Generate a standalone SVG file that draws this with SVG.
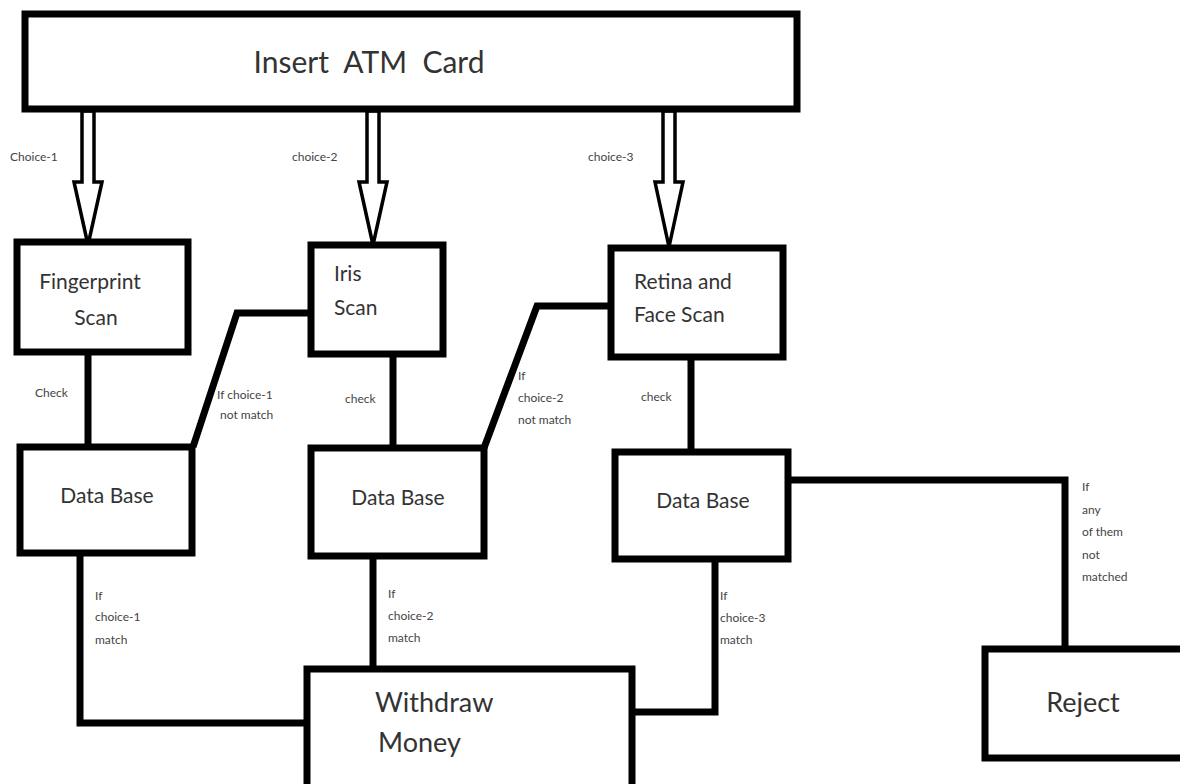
<svg xmlns="http://www.w3.org/2000/svg" width="1180" height="784" viewBox="0 0 1180 784">
<defs>
<style>
.box{fill:#fff;stroke:#000;stroke-width:7}
.ln{fill:none;stroke:#000;stroke-width:7;stroke-linejoin:miter}
.arr{fill:#fff;stroke:#000;stroke-width:3.5;stroke-linejoin:miter}
.t{font-family:Lato,"Open Sans","Liberation Sans",sans-serif;fill:#333}
.big{font-size:30px}
.mid{font-size:21px}
.lg{font-size:27px}
.sm{font-size:12px;fill:#444}
</style>
</defs>
<rect width="1180" height="784" fill="#fff"/>
<g id="connectors">
<path class="arr" d="M82 111 V182 H74 L88 245 L102 182 H94 V111 Z"/>
<path class="arr" d="M367 111 V182 H359 L373 245 L387 182 H379 V111 Z"/>
<path class="arr" d="M663 111 V182 H655 L669 247 L683 182 H675 V111 Z"/>
<path class="ln" d="M88 352 V447"/>
<path class="ln" d="M193 447 L237 313 H311"/>
<path class="ln" d="M393 354 V448"/>
<path class="ln" d="M484 448 L537 306 H611"/>
<path class="ln" d="M691 357 V472"/>
<path class="ln" d="M788 480 H1065 V650"/>
<path class="ln" d="M80 553 V723 H307"/>
<path class="ln" d="M373 556 V669"/>
<path class="ln" d="M715 559 V712 H632"/>
<text class="t sm" x="10" y="161">Choice-1</text>
<text class="t sm" x="292" y="161">choice-2</text>
<text class="t sm" x="588" y="161">choice-3</text>
<text class="t sm" x="35" y="397">Check</text>
<text class="t sm" x="217" y="399">If choice-1</text>
<text class="t sm" x="220" y="419">not match</text>
<text class="t sm" x="345" y="403">check</text>
<text class="t sm" x="518" y="380">If</text>
<text class="t sm" x="518" y="402">choice-2</text>
<text class="t sm" x="518" y="424">not match</text>
<text class="t sm" x="641" y="401">check</text>
<text class="t sm" x="1082" y="491">If</text>
<text class="t sm" x="1082" y="514">any</text>
<text class="t sm" x="1082" y="536">of them</text>
<text class="t sm" x="1082" y="559">not</text>
<text class="t sm" x="1082" y="581">matched</text>
<text class="t sm" x="95" y="600">If</text>
<text class="t sm" x="95" y="621">choice-1</text>
<text class="t sm" x="95" y="644">match</text>
<text class="t sm" x="388" y="598">If</text>
<text class="t sm" x="388" y="620">choice-2</text>
<text class="t sm" x="388" y="642">match</text>
<text class="t sm" x="720" y="600">If</text>
<text class="t sm" x="720" y="622">choice-3</text>
<text class="t sm" x="720" y="644">match</text>
</g>
<g id="insert"><rect class="box" x="25" y="14" width="772" height="95"/><text class="t big" x="369" y="73" text-anchor="middle" xml:space="preserve">Insert  ATM  Card</text></g>
<g id="fingerprint"><rect class="box" x="17" y="242" width="171" height="110"/><text class="t mid" x="90" y="289" text-anchor="middle">Fingerprint</text><text class="t mid" x="96" y="325" text-anchor="middle">Scan</text></g>
<g id="iris"><rect class="box" x="311" y="245" width="132" height="109"/><text class="t mid" x="334" y="281">Iris</text><text class="t mid" x="334" y="315">Scan</text></g>
<g id="retina"><rect class="box" x="611" y="248" width="172" height="109"/><text class="t mid" x="634" y="289">Retina and</text><text class="t mid" x="634" y="322">Face Scan</text></g>
<g id="db1"><rect class="box" x="20" y="447" width="172" height="106"/><text class="t mid" x="107" y="503" text-anchor="middle">Data Base</text></g>
<g id="db2"><rect class="box" x="311" y="448" width="173" height="108"/><text class="t mid" x="398" y="505" text-anchor="middle">Data Base</text></g>
<g id="db3"><rect class="box" x="615" y="452" width="173" height="107"/><text class="t mid" x="703" y="508" text-anchor="middle">Data Base</text></g>
<g id="withdraw"><rect class="box" x="307" y="669" width="325" height="125"/><text class="t lg" x="375" y="712">Withdraw</text><text class="t lg" x="378" y="752">Money</text></g>
<g id="reject"><rect class="box" x="985" y="649" width="205" height="109"/><text class="t lg" x="1083" y="712" text-anchor="middle">Reject</text></g>
</svg>
